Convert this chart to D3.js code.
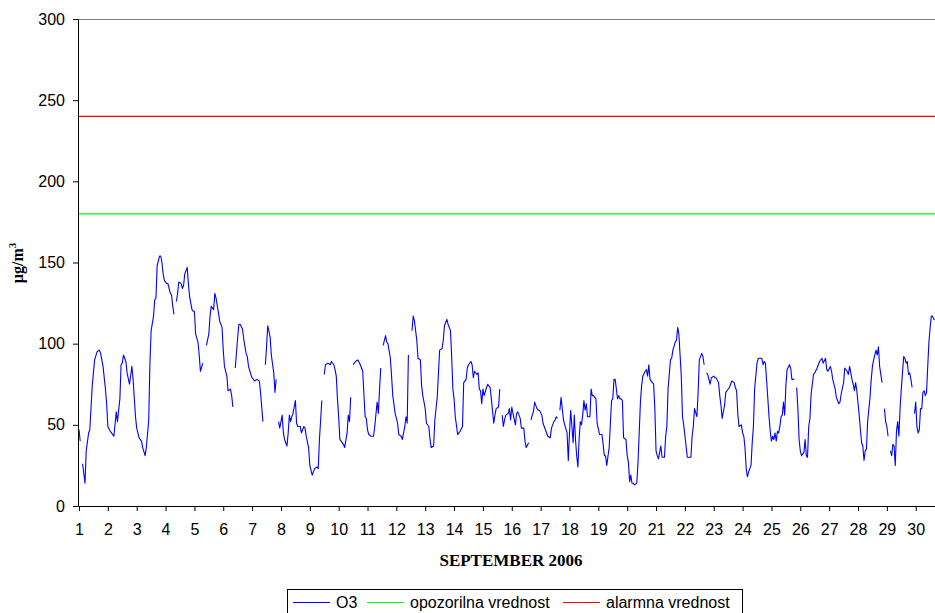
<!DOCTYPE html>
<html>
<head>
<meta charset="utf-8">
<script src="https://cdn.jsdelivr.net/npm/d3@7"></script>
<style>
  html, body { margin: 0; padding: 0; background: #fff; }
  svg { display: block; }
  text { font-family: Arial, "Liberation Sans", sans-serif; }
</style>
</head>
<body>
<svg id="chart" width="935" height="613"></svg>
<script>
// Hourly O3 readings for September 2006: [hours since 1 Sep 00:00, µg/m³]; null = missing hour
const o3Readings = [
  [0,47],[1,40],[2,null],
  [3,26],[5,14],[6,34],[8,45],[9,47],[11,74],[12,82],[13,90],[15,95],[17,96],[18,94],[20,86],[22,72],[23,63],
  [24,49],[26,46],[27,45],[29,43],[31,58],[32,52],[34,66],[35,87],[36,88],[37,93],[39,89],[40,82],[42,75],[44,86],[45,78],[47,55],
  [48,48],[50,42],[52,40],[53,36],[55,31],[56,36],[58,53],[59,88],[60,108],[62,117],[63,127],[64,128],[65,148],[67,154],[68,154],[69,150],[70,143],[71,139],
  [73,137],[74,137],[76,131],[77,130],[78,123],[79,118],[80,null],
  [81,126],[82,131],[83,138],[85,137],[86,134],[87,136],[88,143],[90,147],[91,137],[92,129],[94,121],[95,120],
  [96,120],[97,106],[99,101],[100,93],[101,83],[103,88],[104,null],
  [106,99],[108,106],[109,117],[110,123],[112,121],[113,131],[114,128],[116,119],[117,114],[119,110],
  [120,96],[121,86],[123,80],[124,71],[126,72],[127,68],[128,61],[129,null],
  [130,85],[132,104],[133,112],[134,112],[136,109],[137,103],[139,94],[140,92],[141,86],[143,81],
  [144,79],[146,77],[148,78],[150,77],[151,70],[152,61],[153,52],[154,null],
  [155,87],[156,98],[157,111],[159,104],[160,93],[162,82],[163,70],[164,78],[165,null],
  [166,52],[167,48],[169,56],[170,45],[171,41],[173,37],[174,45],[175,56],[176,52],[177,55],[178,57],[180,65],[181,51],[182,49],
  [184,49],[185,45],[187,49],[188,48],[189,43],[191,36],[192,25],[194,19],[195,21],[196,23],[198,24],[199,23],[200,41],[202,65],[203,null],
  [204,81],[205,87],[207,88],[209,87],[210,89],[212,87],[213,84],[214,80],[215,66],
  [216,55],[217,41],[218,40],[220,38],[221,36],[223,45],[224,56],[225,52],[226,67],[227,null],
  [228,87],[230,89],[232,90],[234,87],[235,85],[236,83],[238,55],[239,54],
  [240,47],[241,44],[243,43],[245,43],[246,49],[248,64],[249,57],[250,72],[251,85],[252,null],
  [253,99],[255,105],[256,101],[257,100],[259,91],[260,80],[261,68],[263,57],
  [265,51],[266,44],[268,43],[269,41],[271,49],[272,55],[273,51],[274,93],[275,null],
  [277,108],[278,117],[279,114],[281,102],[282,91],[284,90],[285,74],[286,68],
  [288,60],[289,51],[291,49],[292,41],[293,36],[295,37],[296,53],[298,67],[299,82],[300,96],[302,97],[303,102],[304,111],[306,115],[307,112],[309,108],[310,92],[311,72],
  [312,66],[313,55],[315,44],[316,45],[317,46],[319,49],[320,76],[322,78],[323,85],[324,87],[326,89],[327,87],[328,79],[329,83],[331,81],[332,82],[333,72],[334,71],[335,63],
  [336,72],[337,68],[339,73],[340,75],[342,73],[343,66],[345,51],[346,56],[347,60],[349,61],[350,72],[351,null],
  [352,56],[353,49],[354,53],[355,56],[357,57],[358,60],[359,53],
  [360,61],[361,57],[363,50],[364,57],[365,58],[367,54],[368,48],[370,48],[371,40],[372,36],[374,39],[375,null],
  [376,53],[377,56],[378,58],[379,64],[381,60],[382,59],[383,59],
  [385,56],[386,51],[388,47],[389,45],[390,43],[392,42],[393,48],[395,52],[396,53],[397,55],[398,54],[399,null],
  [400,59],[401,67],[402,60],[403,53],[404,50],[406,45],[407,28],
  [408,45],[409,59],[410,49],[411,39],[412,56],[413,41],[414,31],[415,24],[416,41],[417,52],[418,50],[419,56],[420,65],[421,59],[422,63],[423,55],[425,55],[426,72],[427,68],[428,68],[430,66],[431,51],
  [433,44],[435,44],[436,38],[437,31],[438,31],[439,25],[441,36],[443,65],[444,66],[445,78],[446,78],[448,66],[449,68],[450,66],[451,66],[452,65],[453,42],[455,41],
  [456,31],[457,27],[458,15],[459,19],[460,14],[461,14],[462,13],[464,14],[465,27],[466,45],[467,64],[468,74],[469,80],[471,83],[472,84],[473,80],[474,87],[475,78],[477,76],[478,75],[479,60],
  [480,34],[481,31],[482,29],[483,33],[484,37],[485,30],[487,30],[488,43],[489,49],[490,72],[492,90],[493,91],[494,96],[496,101],[497,102],[498,110],[499,106],[501,80],[502,55],[503,50],
  [505,37],[506,30],[507,30],[509,30],[510,43],[511,49],[512,60],[514,55],[515,70],[516,90],[517,92],[518,94],[519,92],[520,87],[521,null],
  [522,82],[523,81],[525,75],[526,79],[528,80],[529,79],[530,79],[532,76],[533,68],[534,62],[535,54],[537,62],[538,70],[539,71],[541,73],[542,75],[543,77],[545,76],[546,73],[547,71],[548,57],[549,49],[551,50],
  [552,45],[553,43],[554,36],[555,23],[556,18],[557,21],[559,25],[560,39],[561,49],[562,72],[564,88],[565,91],[566,91],[568,91],[569,87],[570,89],[571,88],[573,66],[574,55],[575,46],
  [576,40],[577,43],[578,41],[579,45],[580,40],[581,46],[582,45],[583,49],[584,55],[585,56],[586,64],[587,56],[588,74],[589,84],[591,87],[592,85],[593,78],[595,78],[596,null],
  [597,73],[598,60],[599,41],[600,34],[601,31],[603,33],[604,41],[605,31],[606,30],[607,49],[608,54],[609,69],[611,81],[612,82],[614,85],[615,87],[616,89],[618,91],[619,88],[621,91],[622,84],[623,83],
  [625,86],[626,83],[627,78],[629,72],[630,67],[632,63],[633,64],[634,69],[636,76],[637,85],[639,83],[640,81],[641,86],[643,78],[644,75],[645,71],[646,76],[647,71],
  [649,56],[650,47],[651,39],[652,37],[653,28],[654,34],[655,35],[656,52],[658,67],[659,78],[660,86],[661,90],[663,96],[664,93],[665,98],[666,86],[668,76],[669,null],
  [670,60],[671,52],[672,49],[673,43],[674,null],
  [675,34],[676,31],[677,38],[678,37],[679,25],[680,46],[681,52],[682,43],[683,60],[684,72],[686,92],[687,91],[688,88],[689,89],[690,81],[691,82],[692,78],[693,73],[694,null],
  [695,57],[696,64],[697,49],[698,45],[699,47],[700,60],[701,60],[702,70],[703,71],[704,68],[705,70],[706,86],[707,101],[708,110],[709,117],[710,117],[711,115],[712,115]
];

// Limit values (µg/m³)
const opozorilnaVrednost = 180;  // information threshold
const alarmnaVrednost = 240;     // alert threshold

// Axis ticks
const dayTicks = d3.range(1, 31);          // 1 … 30
const valueTicks = [0, 50, 100, 150, 200, 250, 300];

const seriesNames = ["O3", "opozorilna vrednost", "alarmna vrednost"];
const seriesColors = ["#0000ff", "#00ff00", "#ff0000"];

const svg = d3.select("#chart");
const plot = { left: 78, top: 19, bottom: 506, dayWidth: 28.852 };

const x = d3.scaleLinear().domain([1, 31]).range([plot.left + 1, plot.left + 1 + 30 * plot.dayWidth]);
const y = d3.scaleLinear().domain([0, 300]).range([plot.bottom, plot.top]);

// plot area frame (grey), right edge runs off the canvas
svg.append("rect")
  .attr("x", plot.left + 0.5).attr("y", plot.top + 0.5)
  .attr("width", x(31) - plot.left).attr("height", plot.bottom - plot.top)
  .attr("fill", "none").attr("stroke", "#808080").attr("stroke-width", 1);

// threshold lines
svg.append("line")
  .attr("x1", plot.left + 1).attr("x2", x(31))
  .attr("y1", y(opozorilnaVrednost)).attr("y2", y(opozorilnaVrednost))
  .attr("stroke", seriesColors[1]).attr("stroke-width", 1.3);
svg.append("line")
  .attr("x1", plot.left + 1).attr("x2", x(31))
  .attr("y1", y(alarmnaVrednost)).attr("y2", y(alarmnaVrednost))
  .attr("stroke", seriesColors[2]).attr("stroke-width", 1.3);

// O3 series
const line = d3.line()
  .defined(d => d[1] !== null)
  .x(d => x(1 + d[0] / 24))
  .y(d => y(d[1]));
svg.append("path")
  .datum(o3Readings)
  .attr("d", line)
  .attr("fill", "none")
  .attr("stroke", seriesColors[0])
  .attr("stroke-width", 1.1)
  .attr("stroke-linejoin", "round");

// axes
const yAxis = d3.axisLeft(y).tickValues(valueTicks).tickSize(5).tickPadding(8).tickSizeOuter(0);
const gy = svg.append("g").attr("transform", `translate(${plot.left},0)`).call(yAxis);
const xAxis = d3.axisBottom(x).tickValues(dayTicks).tickFormat(d3.format("d")).tickSize(5).tickPadding(13).tickSizeOuter(0);
const gx = svg.append("g").attr("transform", `translate(0,${plot.bottom})`).call(xAxis);
[gx, gy].forEach(g => {
  g.selectAll("text").attr("font-size", 16).attr("font-family", "Arial, 'Liberation Sans', sans-serif").attr("fill", "#000");
  g.selectAll("line, path").attr("stroke", "#000");
});

// axis titles
svg.append("text")
  .attr("x", 511).attr("y", 566)
  .attr("text-anchor", "middle")
  .style("font-family", "'Times New Roman', 'Liberation Serif', serif")
  .style("font-weight", "bold").style("font-size", "17px")
  .text("SEPTEMBER 2006");

const yTitle = svg.append("text")
  .attr("transform", "translate(22.5,263) rotate(-90)")
  .attr("text-anchor", "middle")
  .style("font-family", "'Times New Roman', 'Liberation Serif', serif")
  .style("font-weight", "bold").style("font-size", "16px");
yTitle.append("tspan").text("µg/m");
yTitle.append("tspan").attr("dy", -7).style("font-size", "11px").text("3");

// legend
const legend = svg.append("g");
legend.append("rect")
  .attr("x", 287.5).attr("y", 589.5).attr("width", 455).attr("height", 40)
  .attr("fill", "#fff").attr("stroke", "#000").attr("stroke-width", 1);
const legendX = [293, 367, 563];
seriesNames.forEach((name, i) => {
  legend.append("line")
    .attr("x1", legendX[i]).attr("x2", legendX[i] + 37)
    .attr("y1", 602.5).attr("y2", 602.5)
    .attr("stroke", seriesColors[i]).attr("stroke-width", 1.2);
  legend.append("text")
    .attr("x", legendX[i] + 43).attr("y", 607.5)
    .attr("font-size", 16).attr("fill", "#000")
    .text(name);
});
</script>
</body>
</html>
